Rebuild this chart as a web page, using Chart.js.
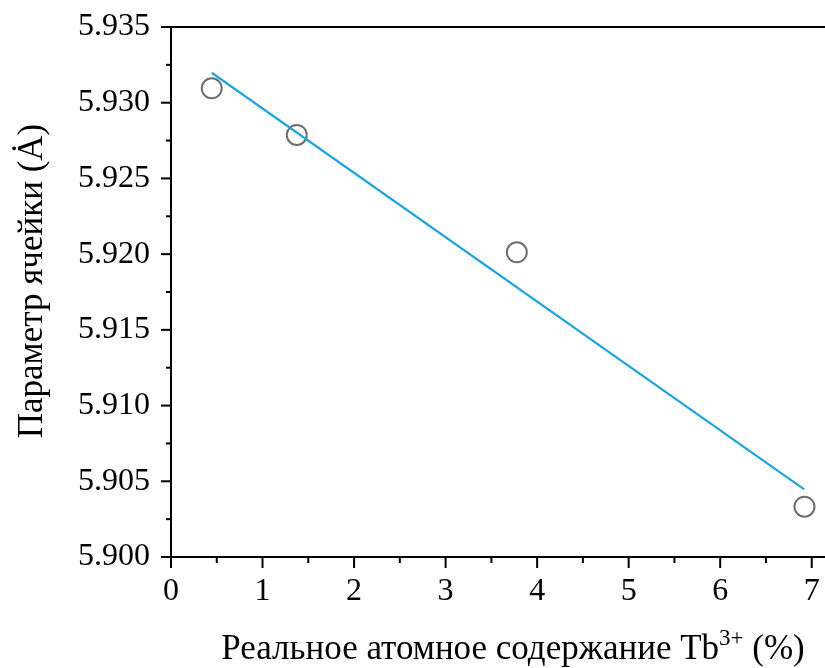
<!DOCTYPE html>
<html lang="ru">
<head>
  <meta charset="UTF-8">
  <title>Параметр ячейки</title>
  <script src="https://cdn.jsdelivr.net/npm/chart.js"></script>
  <style>
    html, body { margin: 0; padding: 0; background: #fff; overflow: hidden; }
    #wrap { width: 825px; height: 668px; }
  </style>
</head>
<body>
  <div id="wrap"><canvas id="grafico" width="825" height="668"></canvas></div>
  <script>
    // измеренные точки
    const contenidoTb = [0.445, 1.374, 3.778, 6.921];
    const parametro = [5.93095, 5.92787, 5.92012, 5.90332];
    // линейная аппроксимация (концы отрезка)
    const ajusteX = [0.445, 6.918];
    const ajusteY = [5.93198, 5.90447];
    // подписи делений
    const ticksX = [0, 1, 2, 3, 4, 5, 6, 7];
    const ticksY = [5.900, 5.905, 5.910, 5.915, 5.920, 5.925, 5.930, 5.935];

    const fuente = "'Liberation Serif', 'Times New Roman', serif";

    // деления (большие и малые), верхняя рамка и подписи осей
    const ejesPlugin = {
      id: 'ejes',
      afterDraw(chart) {
        const ctx = chart.ctx;
        const a = chart.chartArea;
        const sx = chart.scales.x, sy = chart.scales.y;
        ctx.save();
        ctx.strokeStyle = '#000';
        ctx.lineWidth = 2;
        ctx.beginPath();
        ctx.moveTo(a.left - 1, a.top);
        ctx.lineTo(chart.width, a.top);
        ctx.stroke();

        for (let i = 0; i < ticksX.length; i++) {
          const px = sx.getPixelForValue(ticksX[i]);
          ctx.beginPath(); ctx.moveTo(px, a.bottom); ctx.lineTo(px, a.bottom + 11); ctx.stroke();
          const pm = sx.getPixelForValue(ticksX[i] + 0.5);
          if (pm < chart.width) {
            ctx.beginPath(); ctx.moveTo(pm, a.bottom); ctx.lineTo(pm, a.bottom + 6); ctx.stroke();
          }
        }
        for (let i = 0; i < ticksY.length; i++) {
          const py = sy.getPixelForValue(ticksY[i]);
          ctx.beginPath(); ctx.moveTo(a.left, py); ctx.lineTo(a.left - 10, py); ctx.stroke();
          if (i < ticksY.length - 1) {
            const pm = sy.getPixelForValue(ticksY[i] + 0.0025);
            ctx.beginPath(); ctx.moveTo(a.left, pm); ctx.lineTo(a.left - 5, pm); ctx.stroke();
          }
        }

        // подпись оси X с верхним индексом
        ctx.fillStyle = '#000';
        ctx.textBaseline = 'alphabetic';
        ctx.textAlign = 'left';
        const t1 = 'Реальное атомное содержание Tb';
        const sup = '3+';
        const t2 = ' (%)';
        ctx.font = '35px ' + fuente;
        const w1 = ctx.measureText(t1).width;
        const w3 = ctx.measureText(t2).width;
        ctx.font = '23px ' + fuente;
        const w2 = ctx.measureText(sup).width;
        const x0 = 513 - (w1 + w2 + w3) / 2;
        const base = 659;
        ctx.font = '35px ' + fuente;
        ctx.fillText(t1, x0, base);
        ctx.font = '23px ' + fuente;
        ctx.fillText(sup, x0 + w1, base - 14);
        ctx.font = '35px ' + fuente;
        ctx.fillText(t2, x0 + w1 + w2, base);

        // подпись оси Y
        ctx.translate(42, 281);
        ctx.rotate(-Math.PI / 2);
        ctx.textAlign = 'center';
        ctx.fillText('Параметр ячейки (Ȧ)', 0, 0);
        ctx.restore();
      }
    };

    const ctx = document.getElementById('grafico').getContext('2d');
    new Chart(ctx, {
      type: 'scatter',
      data: {
        datasets: [
          {
            label: 'аппроксимация',
            data: ajusteX.map((x, i) => ({ x: x, y: ajusteY[i] })),
            showLine: true,
            borderColor: '#1fa4dd',
            borderWidth: 2.2,
            pointRadius: 0,
            fill: false
          },
          {
            label: 'эксперимент',
            data: contenidoTb.map((x, i) => ({ x: x, y: parametro[i] })),
            pointStyle: 'circle',
            pointRadius: 10,
            pointBorderWidth: 2,
            borderColor: '#6e6e6e',
            backgroundColor: 'rgba(0,0,0,0)'
          }
        ]
      },
      options: {
        responsive: false,
        animation: false,
        events: [],
        layout: { autoPadding: false, padding: { top: 27, left: 0, right: 0, bottom: 0 } },
        plugins: { legend: { display: false }, tooltip: { enabled: false } },
        scales: {
          x: {
            type: 'linear',
            min: 0,
            max: 7.145,
            afterBuildTicks: s => { s.ticks = ticksX.map(v => ({ value: v })); },
            afterFit: s => { s.height = 111; s.paddingLeft = 0; s.paddingRight = 0; },
            grid: { display: false },
            border: { display: true, color: '#000', width: 2 },
            ticks: {
              color: '#000',
              padding: 7,
              font: { family: fuente, size: 32 },
              maxRotation: 0,
              callback: v => String(v)
            }
          },
          y: {
            type: 'linear',
            min: 5.900,
            max: 5.935,
            afterBuildTicks: s => { s.ticks = ticksY.map(v => ({ value: v })); },
            afterFit: s => { s.width = 171; s.paddingTop = 0; s.paddingBottom = 0; },
            grid: { display: false },
            border: { display: true, color: '#000', width: 2 },
            ticks: {
              color: '#000',
              padding: 13,
              font: { family: fuente, size: 32 },
              callback: v => Number(v).toFixed(3)
            }
          }
        }
      },
      plugins: [ejesPlugin]
    });
  </script>
</body>
</html>
